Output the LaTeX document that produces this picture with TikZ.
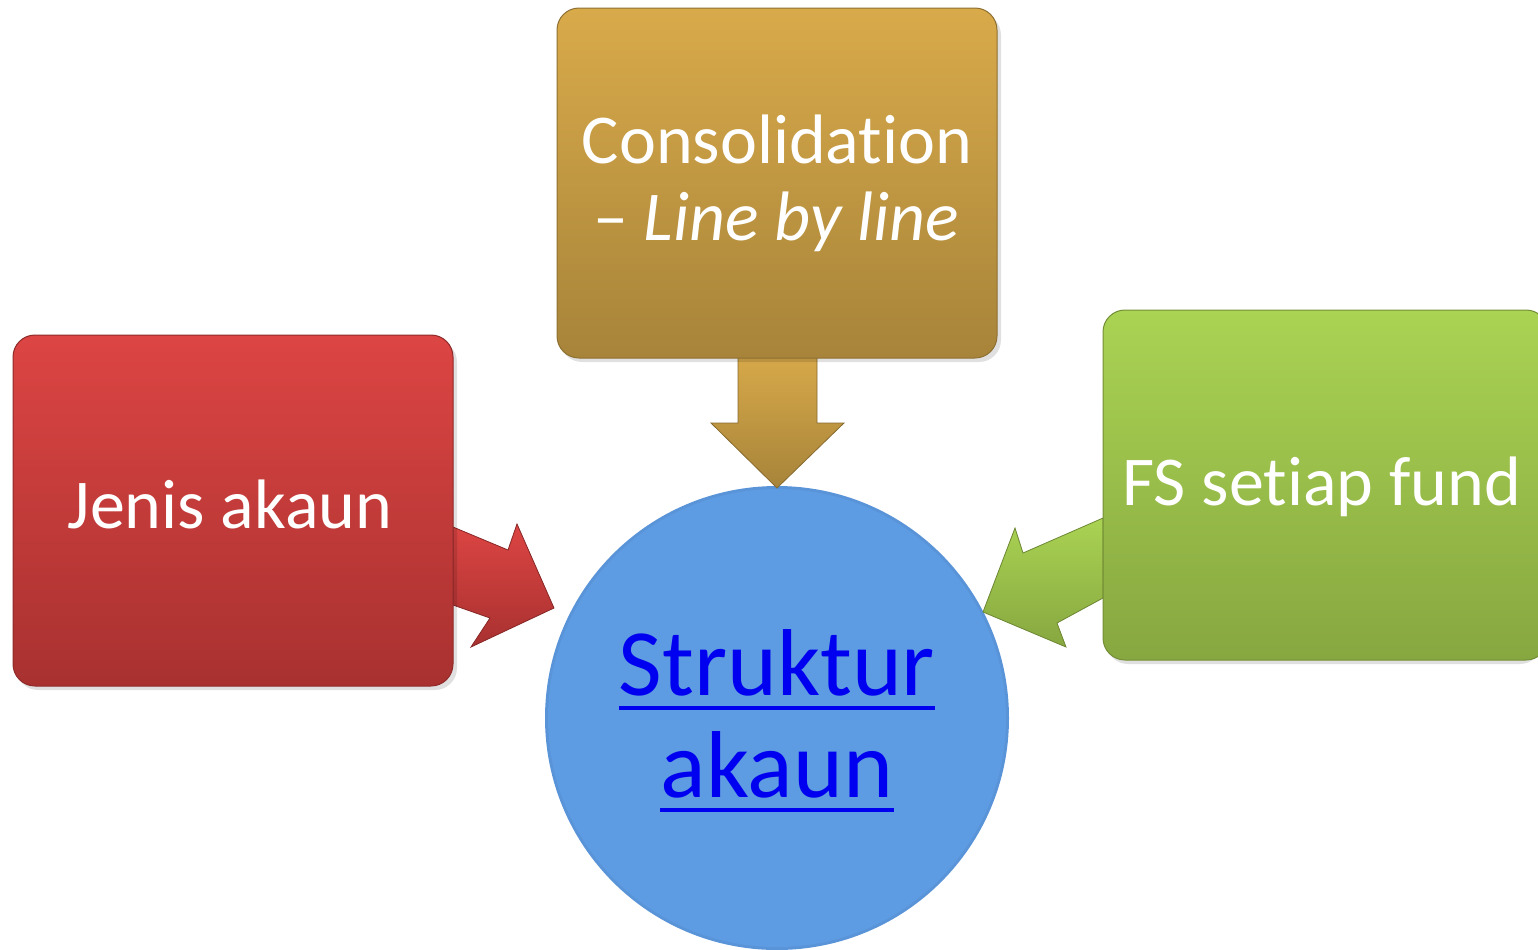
\documentclass[tikz,border=0pt]{standalone}
\usepackage{fontspec}
\setmainfont[RawFeature={-liga;-dlig;-clig}]{Carlito}
\usetikzlibrary{calc}
\definecolor{redT}{HTML}{DC4543}
\definecolor{redB}{HTML}{A83130}
\definecolor{goldT}{HTML}{D9AA4A}
\definecolor{goldB}{HTML}{A7843A}
\definecolor{greenT}{HTML}{AAD353}
\definecolor{greenB}{HTML}{87A740}
\definecolor{hubC}{HTML}{5D9BE2}
\definecolor{hubE}{HTML}{5A94D8}
\definecolor{linkC}{HTML}{0000F0}
\tikzset{
  boxshape/.style={rounded corners=11pt},
  shadowshape/.style={fill=black,opacity=0.12,rounded corners=11pt},
  boxtext/.style={text=white,font=\fontsize{35}{42}\selectfont,inner sep=0pt},
  hubtext/.style={text=linkC,font=\fontsize{47.5}{51}\selectfont,inner sep=0pt},
}
\begin{document}
\begin{tikzpicture}[x=0.5pt,y=-0.5pt]
\useasboundingbox (0,0) rectangle (1538,949);
% hub circle
\coordinate (hubc) at (777,718);
\fill[hubE] (hubc) circle[radius=232];
\fill[hubC] (hubc) circle[radius=229];
% arrows (block connectors)
\coordinate (rA1) at (453,527);
\coordinate (rA2) at (508,550);
\coordinate (rA3) at (517,524);
\coordinate (rTip) at (554,608);
\coordinate (rA5) at (471,647);
\coordinate (rA6) at (490,618);
\coordinate (rA7) at (453,605);
\shade[top color=redT,bottom color=redB,draw=redB!80!black,line width=0.4pt]
  (rA1) -- (rA2) -- (rA3) -- (rTip) -- (rA5) -- (rA6) -- (rA7) -- cycle;
\coordinate (gA1) at (1103,518);
\coordinate (gA2) at (1023,553);
\coordinate (gA3) at (1015,528);
\coordinate (gTip) at (983,612);
\coordinate (gA5) at (1066,647);
\coordinate (gA6) at (1057,623);
\coordinate (gA7) at (1103,598);
\shade[top color=greenT,bottom color=greenB,draw=greenB!80!black,line width=0.4pt]
  (gA1) -- (gA2) -- (gA3) -- (gTip) -- (gA5) -- (gA6) -- (gA7) -- cycle;
\coordinate (oA1) at (738,350);
\coordinate (oA2) at (738,423);
\coordinate (oA3) at (711,423);
\coordinate (oTip) at (777,488);
\coordinate (oA5) at (844,423);
\coordinate (oA6) at (817,423);
\coordinate (oA7) at (817,350);
\shade[top color=goldT,bottom color=goldB,draw=goldB!80!black,line width=0.4pt]
  (oA1) -- (oA2) -- (oA3) -- (oTip) -- (oA5) -- (oA6) -- (oA7) -- cycle;
% boxes
\fill[shadowshape] (16,340) rectangle (457,690);
\shade[boxshape,top color=redT,bottom color=redB,draw=redB!85!black,line width=0.5pt]
  (13,335) rectangle (453,686);
\fill[shadowshape] (560,13) rectangle (1001,362);
\shade[boxshape,top color=goldT,bottom color=goldB,draw=goldB!85!black,line width=0.5pt]
  (557,8) rectangle (997,358);
\fill[shadowshape] (1106,315) rectangle (1542,664);
\shade[boxshape,top color=greenT,bottom color=greenB,draw=greenB!85!black,line width=0.5pt]
  (1103,310) rectangle (1548,660);
% texts
\node[boxtext,anchor=base] (red) at (230,528) {Jenis akaun};
\node[boxtext,anchor=base] (gold1) at (777,163) {Consolidation};
\node[boxtext,anchor=base] (gold2) at (776,240) {– \textit{Line by line}};
\node[boxtext,anchor=base] (green) at (1322,505) {FS setiap fund};
\node[hubtext,anchor=base] (hub1) at (777,695) {Struktur};
\node[hubtext,anchor=base] (hub2) at (777,797) {akaun};
\draw[linkC,line width=2pt] ($(hub1.base west)+(0,13)$) -- ($(hub1.base east)+(0,13)$);
\draw[linkC,line width=2pt] ($(hub2.base west)+(0,13)$) -- ($(hub2.base east)+(0,13)$);
\end{tikzpicture}
\end{document}
